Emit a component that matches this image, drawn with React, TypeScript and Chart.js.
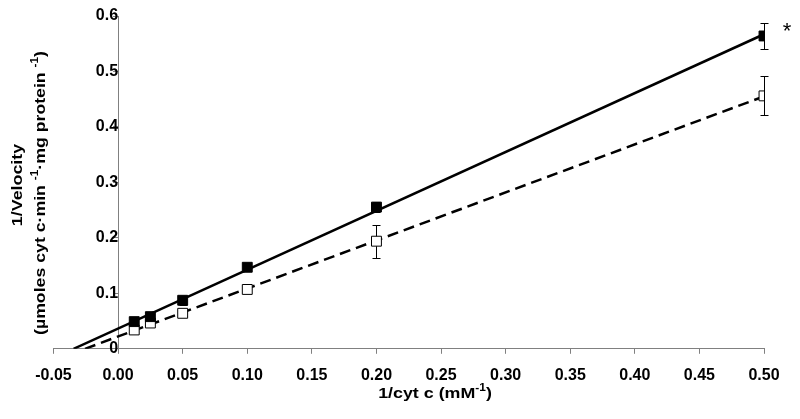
import React, { useEffect, useRef } from 'react';
import { Chart, registerables } from 'chart.js';

Chart.register(...registerables);

// ---- data ----
const xValues = [0.0125, 0.025, 0.05, 0.1, 0.2, 0.5];
const filledY = [0.049, 0.058, 0.0875, 0.147, 0.2555, 0.564];
const filledErr = [0.003, 0.004, 0.008, 0.004, 0.009, 0.024];
const openY = [0.034, 0.0465, 0.064, 0.107, 0.194, 0.456];
const openErr = [0.003, 0.004, 0.004, 0.004, 0.03, 0.035];

const xTickValues = [-0.05, 0, 0.05, 0.1, 0.15, 0.2, 0.25, 0.3, 0.35, 0.4, 0.45, 0.5];
const xTickLabels = ['-0.05', '0.00', '0.05', '0.10', '0.15', '0.20', '0.25', '0.30', '0.35', '0.40', '0.45', '0.50'];
const yTickValues = [0, 0.1, 0.2, 0.3, 0.4, 0.5, 0.6];
const yTickLabels = ['0', '0.1', '0.2', '0.3', '0.4', '0.5', '0.6'];

const xTitleMain = '1/cyt c (mM';
const xTitleSup = '-1';
const xTitleEnd = ')';
const yTitleLine1 = '1/Velocity';
const yTitleLine2 = [
  { t: '(µmoles cyt c·min ', sup: false },
  { t: '-1', sup: true },
  { t: '·mg protein ', sup: false },
  { t: '-1', sup: true },
  { t: ')', sup: false },
];
const significanceMark = '*';

// least-squares trendline, extended back to the x-intercept
function trend(xs: number[], ys: number[]) {
  const n = xs.length;
  const mx = xs.reduce((a, b) => a + b, 0) / n;
  const my = ys.reduce((a, b) => a + b, 0) / n;
  let sxy = 0, sxx = 0;
  for (let i = 0; i < n; i++) {
    sxy += (xs[i] - mx) * (ys[i] - my);
    sxx += (xs[i] - mx) * (xs[i] - mx);
  }
  const slope = sxy / sxx;
  const icpt = my - slope * mx;
  const x0 = -icpt / slope;
  const x1 = xs[n - 1];
  return [
    { x: x0, y: 0 },
    { x: x1, y: icpt + slope * x1 },
  ];
}

const FONT = '"Liberation Sans", Arial, sans-serif';
const SX = 1.19;

type Seg = { t: string; sup: boolean };

function drawRich(ctx: CanvasRenderingContext2D, segs: Seg[], size: number) {
  const main = `bold ${size}px ${FONT}`;
  const small = `bold ${Math.round(size * 0.66)}px ${FONT}`;
  let w = 0;
  const widths = segs.map((s) => {
    ctx.font = s.sup ? small : main;
    const m = ctx.measureText(s.t).width;
    w += m;
    return m;
  });
  let x = -w / 2;
  ctx.textBaseline = 'middle';
  ctx.textAlign = 'left';
  segs.forEach((s, i) => {
    ctx.font = s.sup ? small : main;
    ctx.fillText(s.t, x, s.sup ? -size * 0.38 : 0);
    x += widths[i];
  });
}

const errorBarPlugin = {
  id: 'errorBars',
  beforeDatasetsDraw(chart: any) {
    const { ctx, scales } = chart;
    const xs = scales.x;
    const ys = scales.y;
    ctx.save();
    ctx.strokeStyle = '#000';
    ctx.lineWidth = 1;
    const sets: [number[], number[]][] = [
      [filledY, filledErr],
      [openY, openErr],
    ];
    sets.forEach(([vals, errs]) => {
      xValues.forEach((xv, i) => {
        const px = Math.round(xs.getPixelForValue(xv)) + 0.5;
        const top = Math.round(ys.getPixelForValue(vals[i] + errs[i])) + 0.5;
        const bot = Math.round(ys.getPixelForValue(vals[i] - errs[i])) + 0.5;
        ctx.beginPath();
        ctx.moveTo(px, top);
        ctx.lineTo(px, bot);
        ctx.moveTo(px - 4, top);
        ctx.lineTo(px + 4, top);
        ctx.moveTo(px - 4, bot);
        ctx.lineTo(px + 4, bot);
        ctx.stroke();
      });
    });
    ctx.restore();
  },
};

const textPlugin = {
  id: 'texts',
  afterDraw(chart: any) {
    const { ctx, scales } = chart;
    ctx.save();
    ctx.fillStyle = '#000';
    // x title
    ctx.save();
    ctx.translate(435, 394);
    ctx.scale(SX, 1);
    drawRich(ctx, [
      { t: xTitleMain, sup: false },
      { t: xTitleSup, sup: true },
      { t: xTitleEnd, sup: false },
    ], 15);
    ctx.restore();
    // y title line 1
    ctx.save();
    ctx.translate(18, 185);
    ctx.rotate(-Math.PI / 2);
    ctx.scale(SX, 1);
    drawRich(ctx, [{ t: yTitleLine1, sup: false }], 15);
    ctx.restore();
    // y title line 2
    ctx.save();
    ctx.translate(41, 193);
    ctx.rotate(-Math.PI / 2);
    ctx.scale(1.18, 1);
    drawRich(ctx, yTitleLine2, 15);
    ctx.restore();
    // significance asterisk next to last filled point
    const px = scales.x.getPixelForValue(xValues[xValues.length - 1]);
    const py = scales.y.getPixelForValue(filledY[filledY.length - 1]);
    ctx.font = `22px ${FONT}`;
    ctx.textAlign = 'center';
    ctx.textBaseline = 'middle';
    ctx.fillText(significanceMark, px + 23, py - 4);
    ctx.restore();
  },
};

export default function App() {
  const ref = useRef<HTMLCanvasElement | null>(null);
  useEffect(() => {
    if (!ref.current) return;
    const tickFont = { family: FONT, size: 16, weight: 'bold' as const };
    const chart = new Chart(ref.current, {
      type: 'scatter',
      data: {
        datasets: [
          {
            label: 'Filled',
            data: xValues.map((x, i) => ({ x, y: filledY[i] })),
            pointStyle: 'rect',
            pointRadius: 7,
            backgroundColor: '#000',
            borderColor: '#000',
            borderWidth: 1,
            showLine: false,
            order: 1,
          },
          {
            label: 'Open',
            data: xValues.map((x, i) => ({ x, y: openY[i] })),
            pointStyle: 'rect',
            pointRadius: 7,
            backgroundColor: '#fff',
            borderColor: '#000',
            borderWidth: 1,
            showLine: false,
            order: 2,
          },
          {
            label: 'Filled trend',
            data: trend(xValues, filledY),
            showLine: true,
            borderColor: '#000',
            borderWidth: 2.5,
            pointRadius: 0,
            order: 3,
          },
          {
            label: 'Open trend',
            data: trend(xValues, openY),
            showLine: true,
            borderColor: '#000',
            borderWidth: 2.5,
            borderDash: [11, 6],
            pointRadius: 0,
            order: 4,
          },
        ],
      },
      options: {
        responsive: false,
        animation: false,
        layout: { padding: { left: 53.5, right: 36, top: 16, bottom: 22 } },
        plugins: { legend: { display: false }, tooltip: { enabled: false } },
        scales: {
          x: {
            type: 'linear',
            min: -0.05,
            max: 0.5,
            afterBuildTicks: (scale: any) => {
              scale.ticks = xTickValues.map((v) => ({ value: v }));
            },
            ticks: {
              font: tickFont,
              color: '#000',
              padding: 12,
              maxRotation: 0,
              autoSkip: false,
              callback: (_v: any, i: number) => xTickLabels[i],
            },
            grid: { drawOnChartArea: false, drawTicks: true, tickLength: 5, color: '#808080' },
            border: { display: true, color: '#808080', width: 1 },
          },
          y: {
            type: 'linear',
            min: 0,
            max: 0.6,
            position: { x: 0 },
            afterBuildTicks: (scale: any) => {
              scale.ticks = yTickValues.map((v) => ({ value: v }));
            },
            ticks: {
              font: tickFont,
              color: '#000',
              padding: 3,
              autoSkip: false,
              callback: (_v: any, i: number) => yTickLabels[i],
            },
            grid: { drawOnChartArea: false, drawTicks: true, tickLength: 5, color: '#808080' },
            border: { display: true, color: '#808080', width: 1 },
          },
        },
      },
      plugins: [errorBarPlugin, textPlugin],
    });
    return () => chart.destroy();
  }, []);
  return (
    <div style={{ position: 'fixed', left: 0, top: 0, width: 800, height: 419, background: '#fff' }}>
      <canvas ref={ref} width={800} height={419} />
    </div>
  );
}
